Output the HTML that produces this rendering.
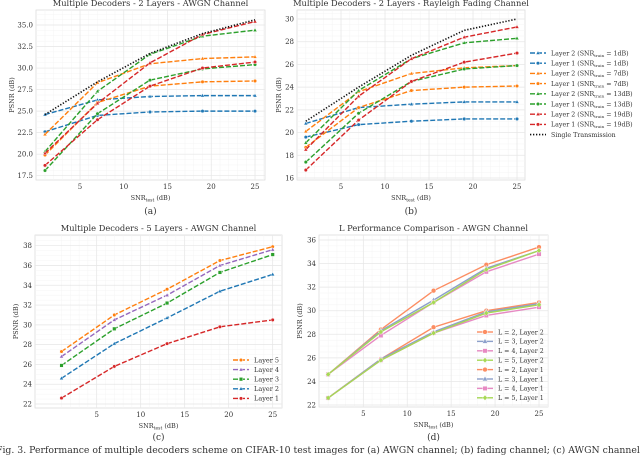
<!DOCTYPE html>
<html><head><meta charset="utf-8">
<style>
body{margin:0;background:#fff;width:640px;height:455px;overflow:hidden}
svg{display:block}
text{font-family:"DejaVu Serif","Liberation Serif",serif;fill:#333}
</style></head>
<body>
<svg id="fig" width="640" height="455" viewBox="0 0 640 455" xmlns="http://www.w3.org/2000/svg"></svg>
<script>
const snr = [1, 7, 13, 19, 25];
// Panel (a) AWGN 2 layers
const aSingle = [24.6, 28.4, 31.7, 34.0, 35.6];
const aL2_1 = [24.6, 26.3, 26.7, 26.8, 26.8];
const aL1_1 = [22.6, 24.5, 24.9, 25.0, 25.0];
const aL2_7 = [22.3, 28.3, 30.5, 31.1, 31.3];
const aL1_7 = [19.9, 26.0, 27.9, 28.4, 28.5];
const aL2_13 = [20.3, 27.3, 31.6, 33.7, 34.4];
const aL1_13 = [18.1, 24.7, 28.6, 29.9, 30.4];
const aL2_19 = [20.1, 25.9, 30.6, 33.9, 35.4];
const aL1_19 = [18.7, 24.0, 27.9, 30.0, 30.7];
const aTicksY = [17.5, 20.0, 22.5, 25.0, 27.5, 30.0, 32.5, 35.0];
// Panel (b) Rayleigh
const bSingle = [21.0, 24.0, 26.8, 29.0, 30.0];
const bL2_1 = [20.8, 22.2, 22.5, 22.7, 22.7];
const bL1_1 = [19.6, 20.7, 21.0, 21.2, 21.2];
const bL2_7 = [20.1, 23.6, 25.2, 25.7, 25.9];
const bL1_7 = [18.7, 22.2, 23.7, 24.0, 24.1];
const bL2_13 = [19.1, 23.7, 26.5, 27.9, 28.3];
const bL1_13 = [17.4, 21.7, 24.5, 25.6, 25.9];
const bL2_19 = [18.5, 23.2, 26.5, 28.4, 29.3];
const bL1_19 = [16.7, 21.1, 24.5, 26.2, 27.0];
const bTicksY = [16, 18, 20, 22, 24, 26, 28, 30];
// Panel (c) 5 layers
const cL5 = [27.3, 31.0, 33.6, 36.5, 37.9];
const cL4 = [26.8, 30.5, 33.0, 36.0, 37.6];
const cL3 = [25.9, 29.6, 32.2, 35.3, 37.1];
const cL2 = [24.6, 28.1, 30.7, 33.4, 35.1];
const cL1 = [22.6, 25.8, 28.1, 29.8, 30.5];
const cTicksY = [22, 24, 26, 28, 30, 32, 34, 36, 38];
// Panel (d) L comparison
const dL2a = [24.6, 28.4, 31.7, 33.9, 35.4];
const dL3a = [24.6, 28.3, 30.9, 33.6, 35.1];
const dL4a = [24.6, 27.9, 30.7, 33.3, 34.8];
const dL5a = [24.6, 28.2, 30.7, 33.5, 35.1];
const dL2b = [22.6, 25.9, 28.6, 30.0, 30.7];
const dL3b = [22.6, 25.9, 28.2, 29.9, 30.6];
const dL4b = [22.6, 25.8, 28.1, 29.6, 30.3];
const dL5b = [22.6, 25.8, 28.1, 29.8, 30.5];
const dTicksY = [22, 24, 26, 28, 30, 32, 34, 36];
const ticksX = [5, 10, 15, 20, 25];

const NS = "http://www.w3.org/2000/svg";
const svg = document.getElementById('fig');
function mk(tag, attrs, parent, txt){
  const e = document.createElementNS(NS, tag);
  for (const k in attrs) e.setAttribute(k, attrs[k]);
  if (txt !== undefined) e.textContent = txt;
  (parent || svg).appendChild(e);
  return e;
}
const C = {blue:'#1f77b4', orange:'#ff7f0e', green:'#2ca02c', red:'#d62728', purple:'#9467bd'};
const S2 = {o:'#fc8d62', b:'#8da0cb', p:'#e78ac3', g:'#a6d854'};

function marker(g, shape, x, y, col, r){
  let m;
  if (shape === 'o') m = mk('circle', {cx:x, cy:y, r:r, fill:col, stroke:'#fff', 'stroke-width':0.5}, g);
  else if (shape === '^') m = mk('polygon', {points:`${x},${y-r*1.2} ${x-r*1.1},${y+r*0.8} ${x+r*1.1},${y+r*0.8}`, fill:col, stroke:'#fff','stroke-width':0.4}, g);
  else if (shape === 's') m = mk('rect', {x:x-r, y:y-r, width:2*r, height:2*r, fill:col, stroke:'#fff','stroke-width':0.4}, g);
  else if (shape === 'D') m = mk('polygon', {points:`${x},${y-r*1.2} ${x+r*1.1},${y} ${x},${y+r*1.2} ${x-r*1.1},${y}`, fill:col, stroke:'#fff','stroke-width':0.4}, g);
  
  
}

function panel(cfg){
  const g = mk('g', {});
  
  
  const b = cfg.box;
  const xs = v => cfg.xr[0][1] + (v - cfg.xr[0][0]) * (cfg.xr[1][1]-cfg.xr[0][1])/(cfg.xr[1][0]-cfg.xr[0][0]);
  const ys = v => cfg.yr[0][1] + (v - cfg.yr[0][0]) * (cfg.yr[1][1]-cfg.yr[0][1])/(cfg.yr[1][0]-cfg.yr[0][0]);
  mk('rect', {x:b.l, y:b.t, width:b.r-b.l, height:b.b-b.t, fill:'#fff', stroke:'#ddd', 'stroke-width':0.8}, g);
  for (let v = 1; v <= 26; v++){ const x = xs(v); if (x>b.l && x<b.r) mk('line',{x1:x,x2:x,y1:b.t,y2:b.b,stroke:'#f4f4f4','stroke-width':0.5},g); }
  const ty = cfg.ticksY, step = ty[1]-ty[0];
  for (let v = ty[0]-step; v <= ty[ty.length-1]+step; v += step/4){ const y = ys(v); if (y>b.t && y<b.b) mk('line',{x1:b.l,x2:b.r,y1:y,y2:y,stroke:'#f4f4f4','stroke-width':0.5},g); }
  ticksX.forEach(v => {
    const x = xs(v);
    mk('line',{x1:x,x2:x,y1:b.t,y2:b.b,stroke:'#e6e6e6','stroke-width':0.7},g);
    const t = mk('text',{x:x,y:b.b+9,'font-size':7,'text-anchor':'middle'},g,String(v));
     
  });
  ty.forEach(v => {
    const y = ys(v);
    mk('line',{x1:b.l,x2:b.r,y1:y,y2:y,stroke:'#e6e6e6','stroke-width':0.7},g);
    const t = mk('text',{x:b.l-3,y:y+2.5,'font-size':7,'text-anchor':'end'},g, cfg.yfmt ? v.toFixed(1) : String(v));
     
  });
  const ti = mk('text',{x:(b.l+b.r)/2,y:b.t-4,'font-size':8.3,'text-anchor':'middle'},g,cfg.title);
   
  const xl = mk('text',{x:(b.l+b.r)/2,y:b.b+20,'font-size':6.5,'text-anchor':'middle','font-family':'DejaVu Sans, sans-serif'},g);
   
  mk('tspan',{},xl,'SNR');
  mk('tspan',{'font-size':4.5,dy:1.5},xl,'test');
  mk('tspan',{dy:-1.5},xl,' (dB)');
  const yl = mk('text',{x:0,y:0,'font-size':6.5,'text-anchor':'middle','font-family':'DejaVu Sans, sans-serif',transform:`translate(${cfg.ylx},${(b.t+b.b)/2}) rotate(-90)`},g,'PSNR (dB)');
   
  cfg.series.forEach(s => {
    const pts = snr.map((v,i)=>`${xs(v)},${ys(s.d[i])}`).join(' ');
    const pl = mk('polyline',{points:pts,fill:'none',stroke:s.c,'stroke-width':s.w||1.4,'stroke-dasharray':s.dash||'none'},g);
    
    
    if (s.m) snr.forEach((v,i)=>marker(g, s.m, xs(v), ys(s.d[i]), s.c, s.r||1.8));
  });
  const lab = mk('text',{x:(b.l+b.r)/2,y:cfg.lab[1],'font-size':9,'text-anchor':'middle'},g,cfg.lab[0]);
   
}
const D='5,2';
panel({name:'chart-a', title:'Multiple Decoders - 2 Layers - AWGN Channel', box:{l:36,t:10,r:265,b:180},
  xr:[[5,80],[25,255]], yr:[[17.5,175.7],[35,25]], ticksY:aTicksY, yfmt:true, ylx:14, lab:['(a)',214],
  series:[
    {n:'layer2-1db',d:aL2_1,c:C.blue,dash:D,m:'^'},{n:'layer1-1db',d:aL1_1,c:C.blue,dash:D,m:'o'},
    {n:'layer2-7db',d:aL2_7,c:C.orange,dash:D,m:'^'},{n:'layer1-7db',d:aL1_7,c:C.orange,dash:D,m:'o'},
    {n:'layer2-13db',d:aL2_13,c:C.green,dash:D,m:'^'},{n:'layer1-13db',d:aL1_13,c:C.green,dash:D,m:'o'},
    {n:'layer2-19db',d:aL2_19,c:C.red,dash:D,m:'^'},{n:'layer1-19db',d:aL1_19,c:C.red,dash:D,m:'o'},
    {n:'single-transmission',d:aSingle,c:'#111',dash:'1.3,1.7',w:1.6}]});
panel({name:'chart-b', title:'Multiple Decoders - 2 Layers - Rayleigh Fading Channel', box:{l:297,t:10,r:525,b:180},
  xr:[[5,341],[25,517]], yr:[[16,178],[30,19]], ticksY:bTicksY, ylx:281, lab:['(b)',214],
  series:[
    {n:'layer2-1db',d:bL2_1,c:C.blue,dash:D,m:'^'},{n:'layer1-1db',d:bL1_1,c:C.blue,dash:D,m:'o'},
    {n:'layer2-7db',d:bL2_7,c:C.orange,dash:D,m:'^'},{n:'layer1-7db',d:bL1_7,c:C.orange,dash:D,m:'o'},
    {n:'layer2-13db',d:bL2_13,c:C.green,dash:D,m:'^'},{n:'layer1-13db',d:bL1_13,c:C.green,dash:D,m:'o'},
    {n:'layer2-19db',d:bL2_19,c:C.red,dash:D,m:'^'},{n:'layer1-19db',d:bL1_19,c:C.red,dash:D,m:'o'},
    {n:'single-transmission',d:bSingle,c:'#111',dash:'1.3,1.7',w:1.6}]});
panel({name:'chart-c', title:'Multiple Decoders - 5 Layers - AWGN Channel', box:{l:35,t:235,r:282,b:408},
  xr:[[5,96.7],[25,272.7]], yr:[[22,404],[38,245.7]], ticksY:cTicksY, ylx:18, lab:['(c)',440],
  series:[
    {n:'layer-5',d:cL5,c:C.orange,dash:D,m:'o'},{n:'layer-4',d:cL4,c:C.purple,dash:D,m:'^'},
    {n:'layer-3',d:cL3,c:C.green,dash:D,m:'s'},{n:'layer-2',d:cL2,c:C.blue,dash:D,m:'^'},
    {n:'layer-1',d:cL1,c:C.red,dash:D,m:'o'}]});
panel({name:'chart-d', title:'L Performance Comparison - AWGN Channel', box:{l:319,t:235,r:548,b:407},
  xr:[[5,363.3],[25,539]], yr:[[22,405],[36,240]], ticksY:dTicksY, ylx:302, lab:['(d)',440],
  series:[
    {n:'l2-layer2',d:dL2a,c:S2.o,m:'o',r:2.4},{n:'l3-layer2',d:dL3a,c:S2.b,m:'^',r:2.4},
    {n:'l4-layer2',d:dL4a,c:S2.p,m:'s',r:2.2},{n:'l5-layer2',d:dL5a,c:S2.g,m:'D',r:2.2},
    {n:'l2-layer1',d:dL2b,c:S2.o,m:'o',r:2.4},{n:'l3-layer1',d:dL3b,c:S2.b,m:'^',r:2.4},
    {n:'l4-layer1',d:dL4b,c:S2.p,m:'s',r:2.2},{n:'l5-layer1',d:dL5b,c:S2.g,m:'D',r:2.2}]});

function legend(name, x, y, dy, items, fs){
  const g = mk('g',{});
  
  
  items.forEach((it,i)=>{
    const yy = y + i*dy;
    mk('line',{x1:x,x2:x+16,y1:yy,y2:yy,stroke:it.c,'stroke-width':it.w||1.4,'stroke-dasharray':it.dash||'none'},g);
    if (it.m) marker(g, it.m, x+8, yy, it.c, it.r||1.8);
    const t = mk('text',{x:x+21,y:yy+2.3,'font-size':fs},g);
     
    if (it.sub){ mk('tspan',{},t,it.t[0]); mk('tspan',{'font-size':fs*0.65,dy:1.5},t,'train'); mk('tspan',{dy:-1.5},t,it.t[1]); }
    else t.textContent = it.t;
  });
}
legend('legend-b', 530, 53, 10.2, [
  {c:C.blue,dash:D,m:'^',sub:1,t:['Layer 2 (SNR',' = 1dB)']},{c:C.blue,dash:D,m:'o',sub:1,t:['Layer 1 (SNR',' = 1dB)']},
  {c:C.orange,dash:D,m:'^',sub:1,t:['Layer 2 (SNR',' = 7dB)']},{c:C.orange,dash:D,m:'o',sub:1,t:['Layer 1 (SNR',' = 7dB)']},
  {c:C.green,dash:D,m:'^',sub:1,t:['Layer 2 (SNR',' = 13dB)']},{c:C.green,dash:D,m:'o',sub:1,t:['Layer 1 (SNR',' = 13dB)']},
  {c:C.red,dash:D,m:'^',sub:1,t:['Layer 2 (SNR',' = 19dB)']},{c:C.red,dash:D,m:'o',sub:1,t:['Layer 1 (SNR',' = 19dB)']},
  {c:'#111',dash:'1.3,1.7',w:1.6,t:'Single Transmission'}], 6.3);
legend('legend-c', 233, 360, 9.6, [
  {c:C.orange,dash:D,m:'o',t:'Layer 5'},{c:C.purple,dash:D,m:'^',t:'Layer 4'},{c:C.green,dash:D,m:'s',t:'Layer 3'},
  {c:C.blue,dash:D,m:'^',t:'Layer 2'},{c:C.red,dash:D,m:'o',t:'Layer 1'}], 6.5);
legend('legend-d', 477, 332, 9.4, [
  {c:S2.o,m:'o',r:2.4,t:'L = 2, Layer 2'},{c:S2.b,m:'^',r:2.4,t:'L = 3, Layer 2'},{c:S2.p,m:'s',r:2.2,t:'L = 4, Layer 2'},{c:S2.g,m:'D',r:2.2,t:'L = 5, Layer 2'},
  {c:S2.o,m:'o',r:2.4,t:'L = 2, Layer 1'},{c:S2.b,m:'^',r:2.4,t:'L = 3, Layer 1'},{c:S2.p,m:'s',r:2.2,t:'L = 4, Layer 1'},{c:S2.g,m:'D',r:2.2,t:'L = 5, Layer 1'}], 6.3);
const cap = mk('text',{x:-4,y:453,'font-size':9.3},svg,'Fig. 3.  Performance of multiple decoders scheme on CIFAR-10 test images for (a) AWGN channel; (b) fading channel; (c) AWGN channel');


</script>
</body></html>
